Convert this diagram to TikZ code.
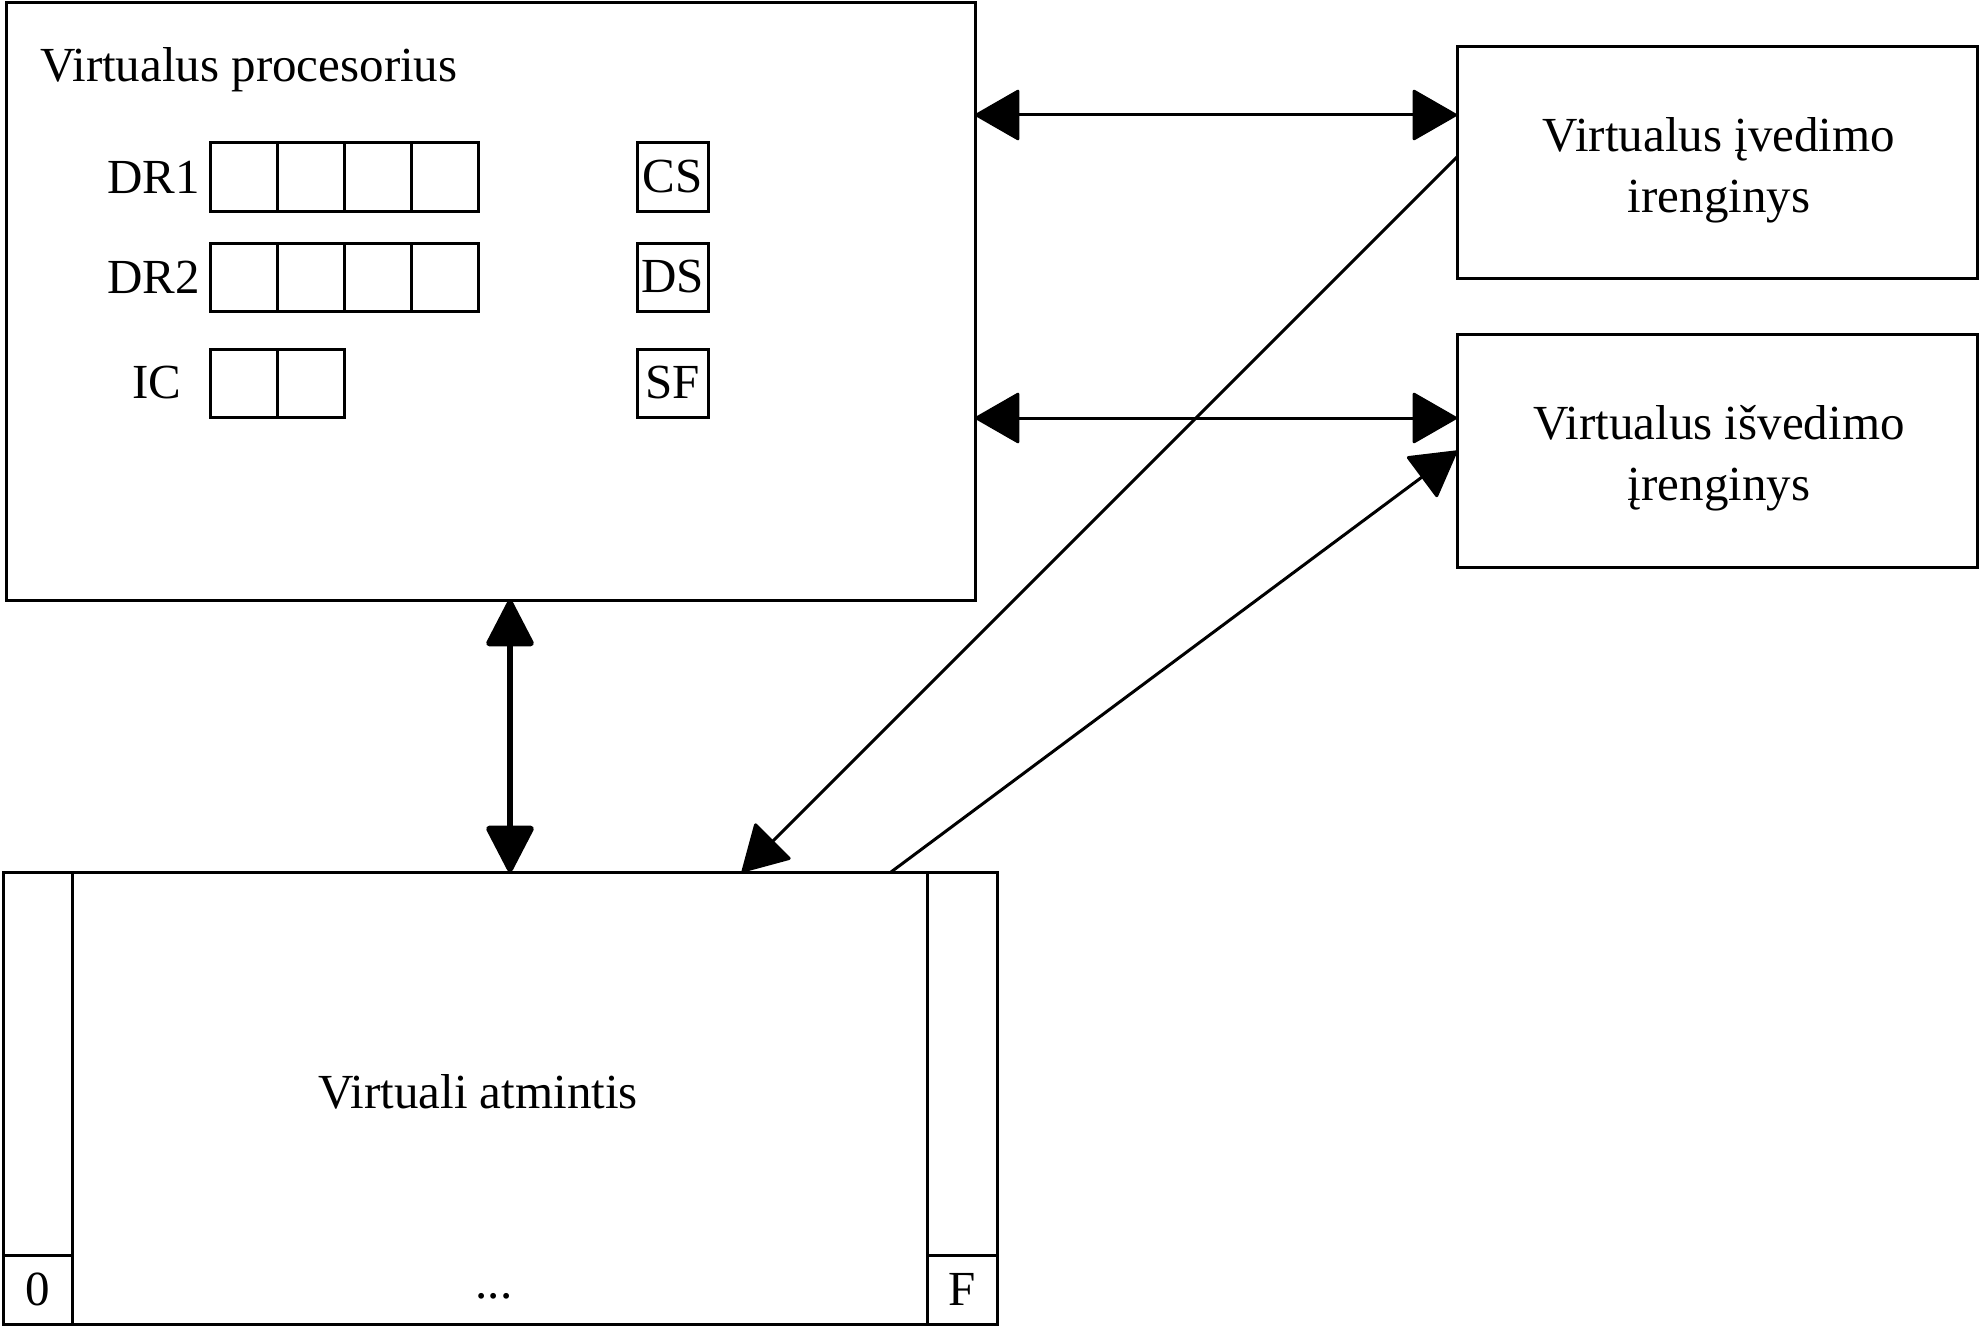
\documentclass[tikz,border=0pt]{standalone}
\usepackage{fontspec}
\setmainfont{Liberation Serif}
\usetikzlibrary{arrows.meta}
\begin{document}
\begin{tikzpicture}[x=1pt,y=-1pt,
  every node/.style={font=\fontsize{49}{61}\selectfont, inner sep=0pt, outer sep=0pt},
  box/.style={draw, line width=3pt},
  cell/.style={draw, line width=3pt, minimum width=67pt, minimum height=68pt},
  flag/.style={draw, line width=3pt, minimum width=71pt, minimum height=68pt},
  tipA/.tip={Triangle[length=46pt,width=52pt,round]},
  tipB/.tip={Triangle[length=50pt,width=50pt,round]},
  conn/.style={line width=3pt},
  thick conn/.style={line width=6pt}
]
\useasboundingbox (0,0) rectangle (1981,1327);

% processor
\node[box, minimum width=969pt, minimum height=597pt] (proc) at (490.5,301.5) {};
\node[anchor=base west] (ptitle) at (40,82) {Virtualus procesorius};

% registers
\foreach \i/\x in {a/243.5,b/310.5,c/377.5,d/444.5}{
  \node[cell] (dr1\i) at (\x,177) {};
  \node[cell] (dr2\i) at (\x,277) {};
}
\foreach \i/\x in {a/243.5,b/310.5}{
  \node[cell] (ic\i) at (\x,383) {};
}
\node[anchor=east] (ldr1) at (200,177) {DR1};
\node[anchor=east] (ldr2) at (200,277) {DR2};
\node[anchor=east] (lic) at (181,383) {IC};
\node[flag] (cs) at (672.5,177) {CS};
\node[flag] (ds) at (672.5,277) {DS};
\node[flag] (sf) at (672.5,383) {SF};

% devices
\node[box, minimum width=520pt, minimum height=231pt] (indev) at (1717,162.5) {};
\node[align=center] (intext) at (1719,170) {Virtualus įvedimo\\irenginys};
\node[box, minimum width=520pt, minimum height=233pt] (outdev) at (1717,450.5) {};
\node[align=center] (outtext) at (1719,458) {Virtualus išvedimo\\įrenginys};

% memory
\node[box, minimum width=994pt, minimum height=452pt] (mem) at (500,1098) {};
\node[box, minimum width=69pt, minimum height=452pt] (meml) at (37.5,1098) {};
\node[box, minimum width=70pt, minimum height=452pt] (memr) at (962,1098) {};
\node[box, minimum width=69pt, minimum height=69pt] (zero) at (37.5,1289.5) {0};
\node[box, minimum width=70pt, minimum height=69pt] (eff) at (962,1289.5) {F};
\node (memtitle) at (478,1092) {Virtuali atmintis};
\node[anchor=base] (dots) at (494,1298) {...};

% connector coordinates
\coordinate (y1) at (0,115);
\coordinate (y2) at (0,418);
\coordinate (y3) at (0,157);
\coordinate (y4) at (0,451);
\coordinate (x1) at (510,0);
\coordinate (x2) at (742,0);
\coordinate (x3) at (891,0);

\draw[conn, tipA-tipA] (proc.east |- y1) -- (indev.west |- y1);
\draw[conn, tipA-tipA] (proc.east |- y2) -- (outdev.west |- y2);
\draw[thick conn, tipB-tipB] (proc.south -| x1) -- (mem.north -| x1);
\draw[conn, -tipA] (indev.west |- y3) -- (mem.north -| x2);
\draw[conn, -tipA] (mem.north -| x3) -- (outdev.west |- y4);
\end{tikzpicture}
\end{document}
